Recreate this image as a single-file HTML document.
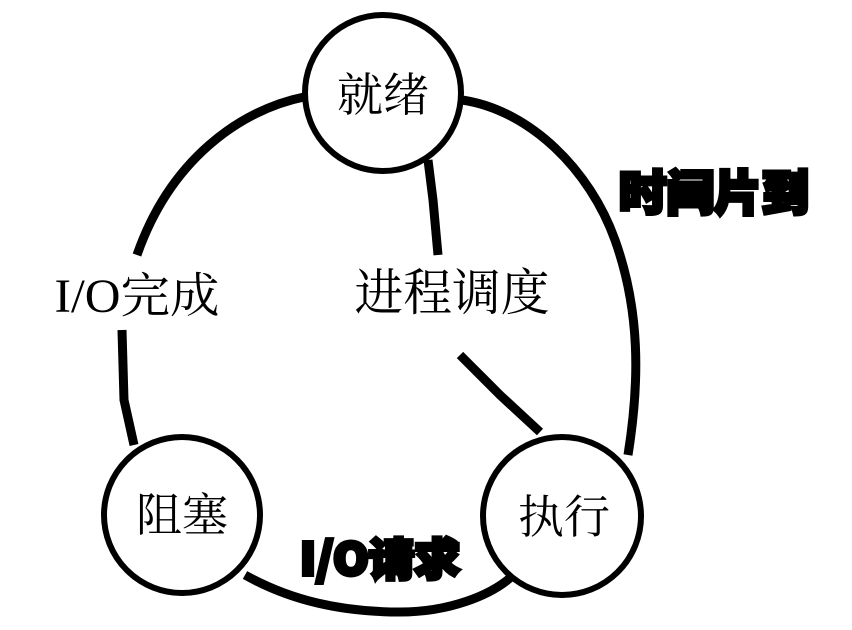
<!DOCTYPE html>
<html><head><meta charset="utf-8"><style>
html,body{margin:0;padding:0;background:#fff;width:852px;height:630px;overflow:hidden}
</style></head><body>
<svg width="852" height="630" viewBox="0 0 852 630" xmlns="http://www.w3.org/2000/svg">
<g fill="none" stroke="#000" stroke-width="9" stroke-linecap="butt">
<path d="M462 100 C530 110 590 170 615 240 C640 310 640 380 628 455"/>
<path d="M304 97 C240 110 170 160 137 255"/>
<path d="M122 330 L124 400 L134 445"/>
<path d="M245 575 C290 600 340 612 400 612 C450 612 490 595 510 578"/>
<path d="M428 160 L433 200 L438 255"/>
<path d="M460 355 L500 395 L540 432"/>
</g>
<g fill="#fff" stroke="#000" stroke-width="6">
<circle cx="383" cy="93" r="78"/>
<circle cx="182" cy="515" r="78"/>
<circle cx="562" cy="516" r="79"/>
</g>
<g font-family="'Liberation Serif','Noto Serif CJK SC',serif" font-size="46" fill="#000" text-anchor="middle">
<text x="383" y="111">就绪</text>
<text x="182" y="531">阻塞</text>
<text x="564" y="533">执行</text>
<text x="137" y="312" font-size="48" textLength="165" lengthAdjust="spacingAndGlyphs">I/O完成</text>
<text x="452" y="310" font-size="50" textLength="195" lengthAdjust="spacingAndGlyphs">进程调度</text>
</g>
<g font-family="'Noto Sans CJK SC','WenQuanYi Zen Hei',sans-serif" font-weight="900" fill="#000" text-anchor="middle" stroke="#000" stroke-width="4">
<text x="714" y="210" font-size="48" textLength="190" lengthAdjust="spacingAndGlyphs">时间片到</text>
<text x="380" y="575" font-size="44" textLength="160" lengthAdjust="spacingAndGlyphs">I/O请求</text>
</g>
</svg>
</body></html>
